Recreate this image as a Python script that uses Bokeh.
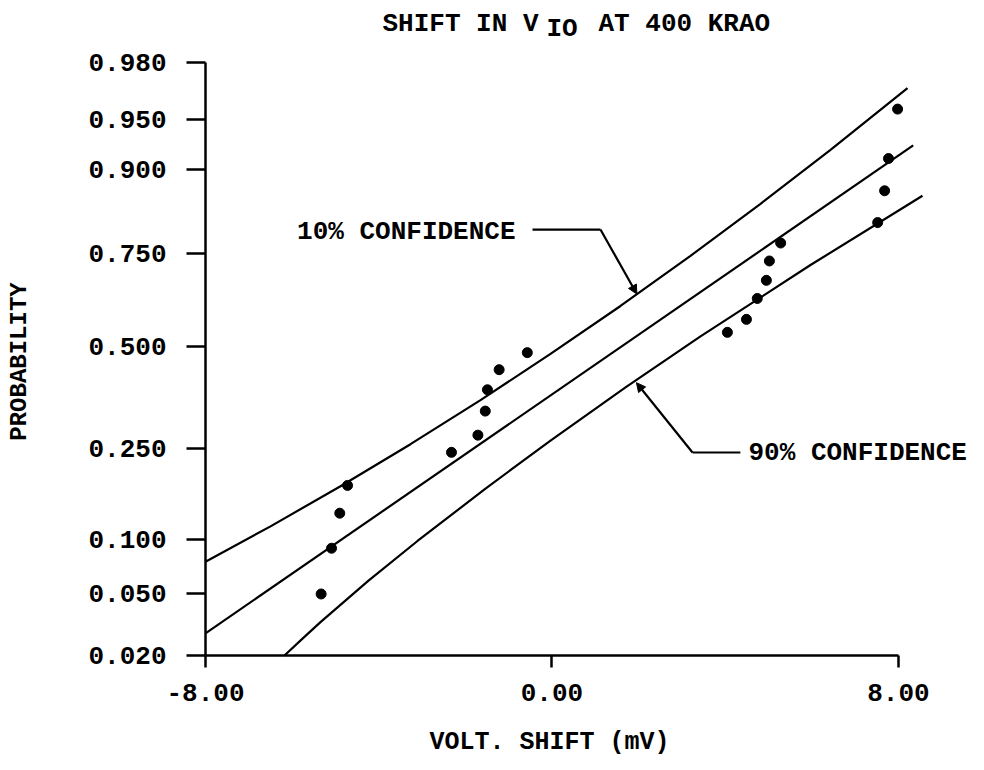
from statistics import NormalDist
from math import pi
from bokeh.plotting import figure
from bokeh.models import Range1d, FixedTicker, Arrow, NormalHead
from bokeh.core.properties import value
from bokeh.embed import file_html
from bokeh.resources import INLINE

# ---------------- data ----------------
x_pts = [-5.33, -5.09, -4.90, -4.72, -2.32, -1.71, -1.54, -1.49, -1.22, -0.57,
         4.05, 4.49, 4.74, 4.95, 5.02, 5.28, 7.52, 7.68, 7.77, 7.98]
p_pts = [0.050, 0.090, 0.134, 0.178, 0.241, 0.278, 0.334, 0.387, 0.439, 0.484,
         0.541, 0.578, 0.636, 0.684, 0.732, 0.773, 0.815, 0.870, 0.913, 0.957]

fit_x = [-8.0, 8.34]
fit_p = [0.0283, 0.9271]

upper_x = [-8.000, -6.499, -4.883, -3.267, -1.650, -0.034, 1.582, 3.198, 4.815, 6.431, 8.209]
upper_p = [0.0762, 0.1160, 0.1766, 0.2582, 0.3610, 0.4805, 0.6155, 0.7441, 0.8490, 0.9226, 0.9692]

lower_x = [-6.176, -5.760, -5.345, -4.236, -3.105, -1.535, -0.034, 1.698, 3.429, 5.969, 8.555]
lower_p = [0.0200, 0.0261, 0.0335, 0.0598, 0.0981, 0.1725, 0.2661, 0.3932, 0.5293, 0.7223, 0.8623]

y_tick_p = [0.020, 0.050, 0.100, 0.250, 0.500, 0.750, 0.900, 0.950, 0.980]
y_tick_labels = ["0.020", "0.050", "0.100", "0.250", "0.500", "0.750", "0.900", "0.950", "0.980"]
x_ticks = [-8, 0, 8]
x_tick_labels = ["-8.00", "0.00", "8.00"]

title_parts = ["SHIFT IN V", "IO", "AT 400 KRAO"]
x_title = "VOLT. SHIFT (mV)"
y_title = "PROBABILITY"
upper_name = "10% CONFIDENCE"
lower_name = "90% CONFIDENCE"

# ---------------- probability scale ----------------
ND = NormalDist()
K_LOW = 149.5 / 137.5   # lower half of the printed scale is slightly stretched


def prob_y(p):
    z = ND.inv_cdf(p)
    return z if z >= 0 else z * K_LOW


PX_X = 43.31     # px per mV
PX_Y = 138.33    # px per scale unit
W, H = 968, 762
X0 = -8 - 205 / PX_X
X1 = -8 + (W - 205) / PX_X
Y1 = prob_y(0.98) + 62 / PX_Y
Y0 = Y1 - H / PX_Y

FONT_NAME = "Liberation Mono"
FONT = value(FONT_NAME)
FS = "26px"

p = figure(width=W, height=H,
           x_range=Range1d(X0, X1), y_range=Range1d(Y0, Y1),
           output_backend="svg", toolbar_location=None, min_border=0)
p.xgrid.visible = False
p.ygrid.visible = False
p.outline_line_color = None
p.background_fill_color = "white"
p.border_fill_color = "white"

xa = p.xaxis[0]
xa.ticker = FixedTicker(ticks=x_ticks)
xa.major_label_overrides = {t: l for t, l in zip(x_ticks, x_tick_labels)}
xa.bounds = (-8, 8)
xa.fixed_location = prob_y(0.02)

ya = p.yaxis[0]
y_ticks = [prob_y(v) for v in y_tick_p]
ya.ticker = FixedTicker(ticks=y_ticks)
ya.major_label_overrides = {t: l for t, l in zip(y_ticks, y_tick_labels)}
ya.bounds = (prob_y(0.02), prob_y(0.98))
ya.fixed_location = -8

for ax, tick_out, standoff in ((xa, 12, 17), (ya, 19, 20)):
    ax.axis_line_color = "black"
    ax.axis_line_width = 2.5
    ax.major_tick_line_color = "black"
    ax.major_tick_line_width = 2.5
    ax.major_tick_in = 0
    ax.major_tick_out = tick_out
    ax.minor_tick_in = 0
    ax.minor_tick_out = 0
    ax.major_label_standoff = standoff
    ax.major_label_text_font = FONT_NAME
    ax.major_label_text_font_size = FS
    ax.major_label_text_font_style = "bold"
    ax.major_label_text_color = "black"

# curves
p.line(upper_x, [prob_y(v) for v in upper_p], line_color="black", line_width=2.2)
p.line(fit_x, [prob_y(v) for v in fit_p], line_color="black", line_width=2.2)
p.line(lower_x, [prob_y(v) for v in lower_p], line_color="black", line_width=2.2)

# points
p.scatter(x_pts, [prob_y(v) for v in p_pts], size=10, color="black")

# title (with subscript)
title_x = [-3.913, -0.127, 1.074]
title_y = [2.332, 2.2995, 2.332]
for tx, ty, tt in zip(title_x, title_y, title_parts):
    p.text(x=[tx], y=[ty], text=[tt], text_font=FONT, text_font_style="bold",
           text_font_size=FS, text_align="left", text_baseline="middle",
           text_color="black")

# confidence annotations
p.text(x=[-0.842], y=[0.832], text=[upper_name], text_font=FONT, text_font_style="bold",
       text_font_size=FS, text_align="right", text_baseline="middle", text_color="black")
p.line([-0.45, 1.12], [0.846, 0.846], line_color="black", line_width=2.2)
p.add_layout(Arrow(end=NormalHead(size=9, fill_color="black", line_color="black"),
                   x_start=1.12, y_start=0.846, x_end=1.96, y_end=prob_y(0.648),
                   line_color="black", line_width=2.2))

p.text(x=[4.537], y=[-0.7657], text=[lower_name], text_font=FONT, text_font_style="bold",
       text_font_size=FS, text_align="left", text_baseline="middle", text_color="black")
p.line([3.245, 4.35], [-0.7657, -0.7657], line_color="black", line_width=2.2)
p.add_layout(Arrow(end=NormalHead(size=9, fill_color="black", line_color="black"),
                   x_start=3.245, y_start=-0.7657, x_end=1.95, y_end=-0.261,
                   line_color="black", line_width=2.2))

# axis titles
p.text(x=[-0.057], y=[-2.8621], text=[x_title], text_font=FONT, text_font_style="bold",
       text_font_size="25px", text_align="center", text_baseline="middle", text_color="black")
p.text(x=[-12.306], y=[-0.1078], text=[y_title], text_font=FONT, text_font_style="bold",
       text_font_size="24px", text_align="center", text_baseline="middle",
       angle=pi / 2, text_color="black")

open("out.html", "w").write(file_html(p, INLINE))
